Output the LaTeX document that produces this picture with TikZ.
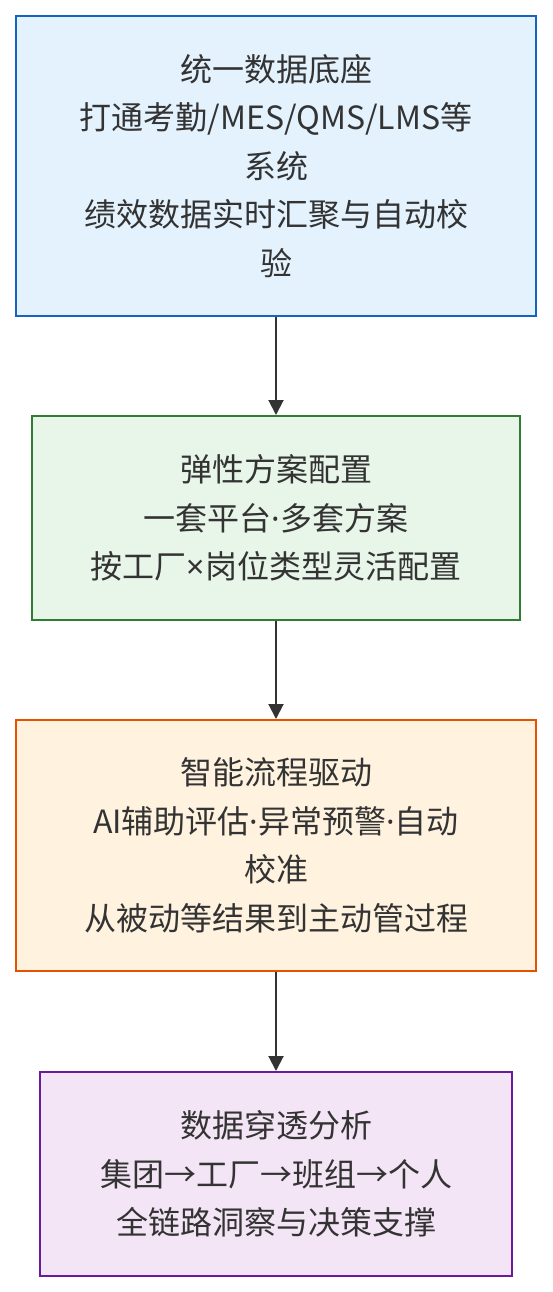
\documentclass[tikz,border=0pt]{standalone}
\usepackage{fontspec}
\setmainfont{Noto Sans CJK SC}
\newfontfamily\latinsym{Noto Sans}
\usetikzlibrary{arrows.meta}
\definecolor{txt}{HTML}{333333}
\definecolor{bluefill}{HTML}{E3F2FD}
\definecolor{blueline}{HTML}{1565C0}
\definecolor{greenfill}{HTML}{E8F5E9}
\definecolor{greenline}{HTML}{2E7D32}
\definecolor{orangefill}{HTML}{FFF3E0}
\definecolor{orangeline}{HTML}{E65100}
\definecolor{purplefill}{HTML}{F3E5F5}
\definecolor{purpleline}{HTML}{6A1B9A}
\newcommand{\mdot}{{\latinsym ·}}
\newcommand{\mcross}{{\latinsym ×}}
\tikzset{
  stagebox/.style={draw, rectangle, line width=2pt, inner sep=0pt, align=center,
    text=txt, font=\fontsize{32}{48.5}\selectfont},
  flowarrow/.style={draw=txt, line width=2pt, -{Triangle[length=15pt,width=15pt]}}
}
\begin{document}
\begin{tikzpicture}[x=1pt,y=1pt]
\useasboundingbox[fill=white] (0,0) rectangle (552,-1292);
\node[stagebox, draw=blueline, fill=bluefill, minimum width=520pt, minimum height=300pt] (a) at (276,-166)
  {统一数据底座\\打通考勤/MES/QMS/LMS等\\系统\\绩效数据实时汇聚与自动校\\验};
\node[stagebox, draw=greenline, fill=greenfill, minimum width=488pt, minimum height=204pt] (b) at (276,-518)
  {弹性方案配置\\一套平台\mdot 多套方案\\按工厂\mcross 岗位类型灵活配置};
\node[stagebox, draw=orangeline, fill=orangefill, minimum width=520pt, minimum height=251pt] (c) at (276,-845.5)
  {智能流程驱动\\AI辅助评估\mdot 异常预警\mdot 自动\\校准\\从被动等结果到主动管过程};
\node[stagebox, draw=purpleline, fill=purplefill, minimum width=472pt, minimum height=204pt] (d) at (276,-1174)
  {数据穿透分析\\集团→工厂→班组→个人\\全链路洞察与决策支撑};
\draw[flowarrow] (a.south) -- (b.north);
\draw[flowarrow] (b.south) -- (c.north);
\draw[flowarrow] (c.south) -- (d.north);
\end{tikzpicture}
\end{document}
